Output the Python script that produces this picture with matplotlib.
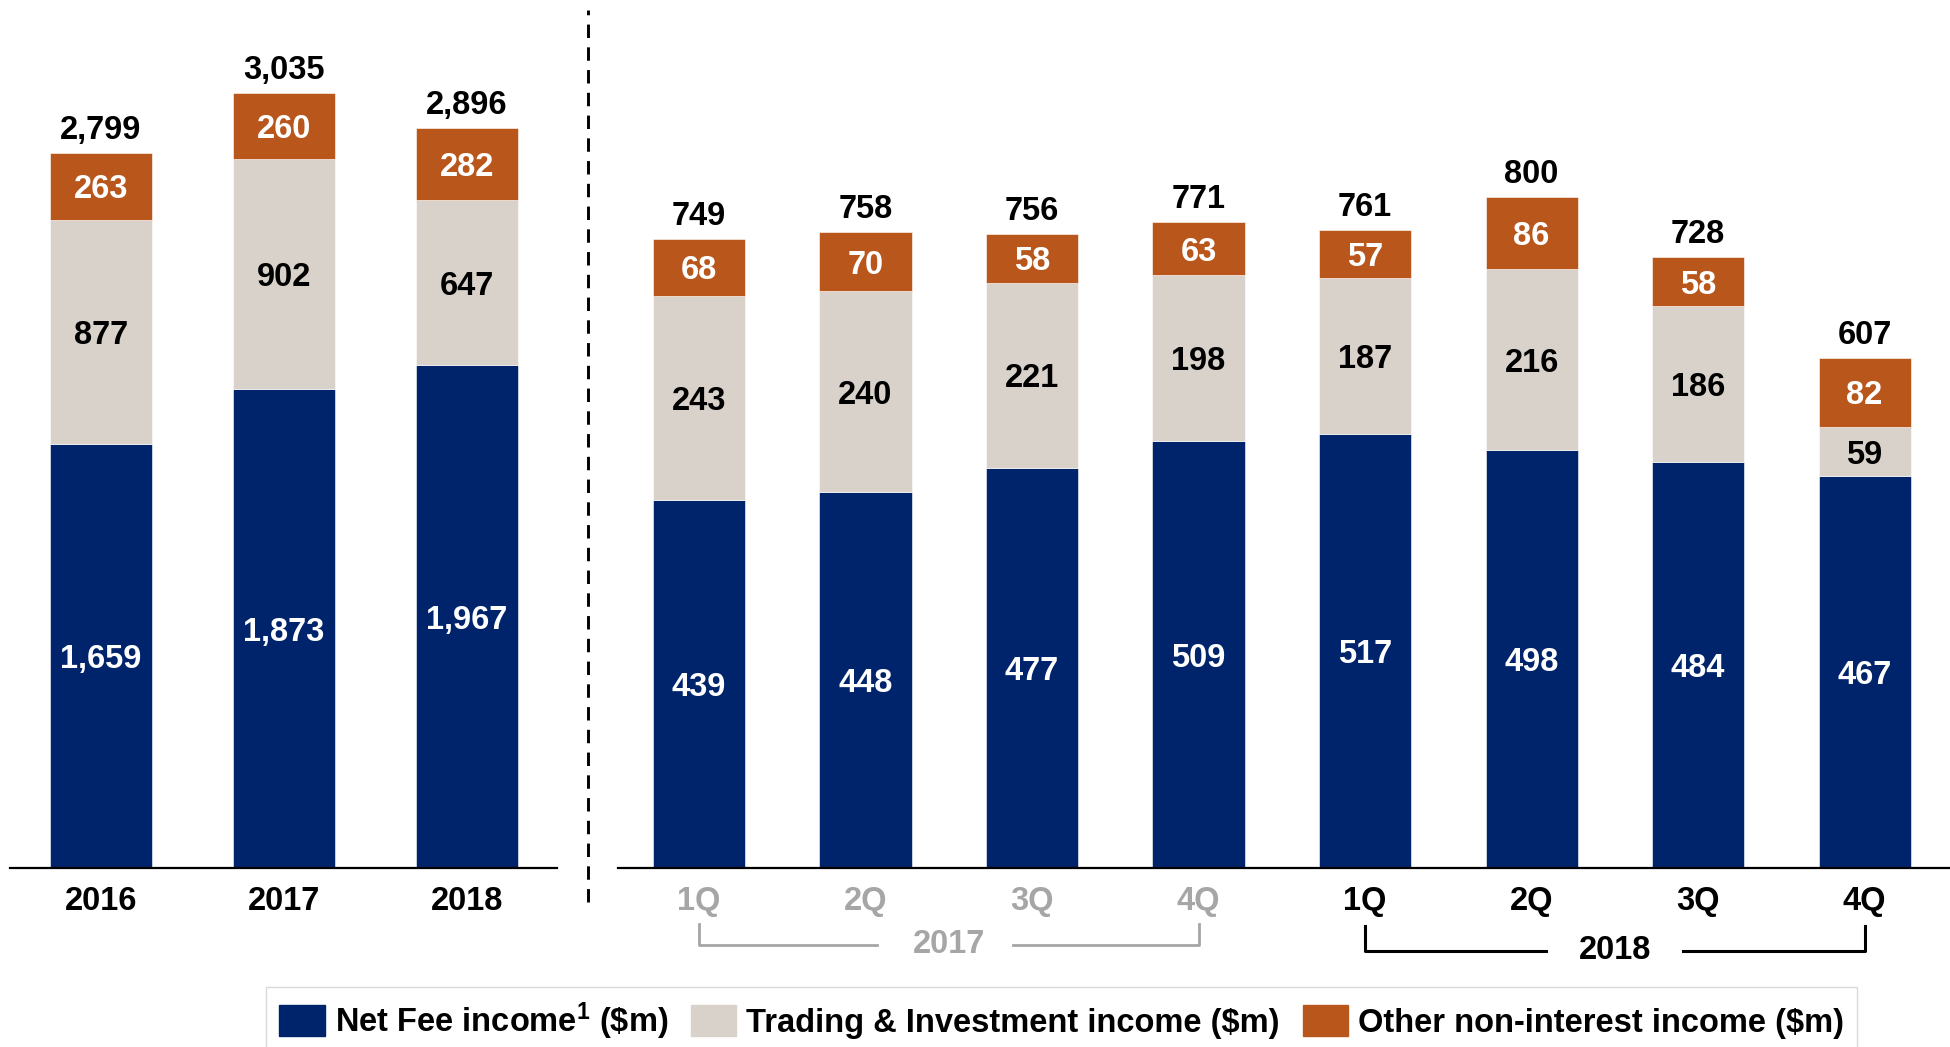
import matplotlib
matplotlib.use('Agg')
import matplotlib.pyplot as plt
from matplotlib.lines import Line2D
from matplotlib.patches import Patch

plt.rcParams['font.family'] = ['Liberation Sans', 'DejaVu Sans']
plt.rcParams['font.weight'] = 'bold'
plt.rcParams['mathtext.fontset'] = 'custom'
plt.rcParams['mathtext.rm'] = 'Liberation Sans:bold'
plt.rcParams['mathtext.default'] = 'rm'

# annual data
years = ['2016', '2017', '2018']
fee_y = [1659, 1873, 1967]
trade_y = [877, 902, 647]
other_y = [263, 260, 282]
total_y = [2799, 3035, 2896]

# quarterly data
quarters = ['1Q', '2Q', '3Q', '4Q', '1Q', '2Q', '3Q', '4Q']
fee_q = [439, 448, 477, 509, 517, 498, 484, 467]
trade_q = [243, 240, 221, 198, 187, 216, 186, 59]
other_q = [68, 70, 58, 63, 57, 86, 58, 82]
total_q = [749, 758, 756, 771, 761, 800, 728, 607]

NAVY = '#00246B'
BEIGE = '#D9D2CA'
ORANGE = '#B8561B'
GREY = '#A6A6A6'
FS = 23.5


def stacked(ax, labels, fee, trade, other, total, width):
    x = list(range(len(labels)))
    b2 = [f + t for f, t in zip(fee, trade)]
    ax.bar(x, fee, width, color=NAVY, edgecolor='white', linewidth=0.4)
    ax.bar(x, trade, width, bottom=fee, color=BEIGE, edgecolor='white', linewidth=0.4)
    ax.bar(x, other, width, bottom=b2, color=ORANGE, edgecolor='white', linewidth=0.4)
    for i in x:
        ax.text(i, fee[i] / 2, f'{fee[i]:,}', ha='center', va='center_baseline', color='white', fontsize=FS)
        ax.text(i, fee[i] + trade[i] / 2, f'{trade[i]:,}', ha='center', va='center_baseline', color='black', fontsize=FS)
        ax.text(i, b2[i] + other[i] / 2, f'{other[i]:,}', ha='center', va='center_baseline', color='white', fontsize=FS)
        ax.annotate(f'{total[i]:,}', (i, b2[i] + other[i]), xytext=(0, 5), textcoords='offset points',
                    ha='center', va='bottom', fontsize=FS)
    ax.set_xticks(x)
    ax.set_xticklabels(labels, fontsize=FS)
    ax.tick_params(axis='x', length=0, pad=13)
    ax.set_yticks([])
    for s in ['top', 'left', 'right']:
        ax.spines[s].set_visible(False)
    ax.spines['bottom'].set_linewidth(1.6)


fig = plt.figure(figsize=(19.5, 10.47), dpi=100)

ax1 = fig.add_axes([0.00513, 0.17096, 0.28051, 0.81948])
stacked(ax1, years, fee_y, trade_y, other_y, total_y, 0.557)
ax1.set_xlim(-0.495, 2.494)
ax1.set_ylim(0, 3358)

ax2 = fig.add_axes([0.31692, 0.17096, 0.68308, 0.81948])
stacked(ax2, quarters, fee_q, trade_q, other_q, total_q, 0.553)
ax2.set_xlim(-0.4865, 7.513)
ax2.set_ylim(0, 1023)
for i, lab in enumerate(ax2.get_xticklabels()):
    lab.set_color(GREY if i < 4 else 'black')

# year brackets under the quarters
tr = ax2.get_xaxis_transform()
ax2.plot([0, 0, 1.07], [-0.0653, -0.0897, -0.0897], transform=tr, clip_on=False, color=GREY, lw=2)
ax2.plot([1.886, 3, 3], [-0.0897, -0.0897, -0.0653], transform=tr, clip_on=False, color=GREY, lw=2)
ax2.text(1.5, -0.0897, '2017', transform=tr, ha='center', va='center', color=GREY, fontsize=FS)
ax2.plot([4, 4, 5.087], [-0.0676, -0.0967, -0.0967], transform=tr, clip_on=False, color='black', lw=2.2)
ax2.plot([5.91, 7, 7], [-0.0967, -0.0967, -0.0676], transform=tr, clip_on=False, color='black', lw=2.2)
ax2.text(5.5, -0.0967, '2018', transform=tr, ha='center', va='center', color='black', fontsize=FS)

# dashed separator
fig.add_artist(Line2D([0.3015, 0.3015], [0.1385, 0.9904], color='black', lw=2.1, linestyle=(0, (4.6, 3.2))))

handles = [Patch(color=NAVY), Patch(color=BEIGE), Patch(color=ORANGE)]
names = [r'Net Fee income$^{1}$ (\$m)', 'Trading & Investment income ($m)', 'Other non-interest income ($m)']
leg = fig.legend(handles, names, loc='upper center', bbox_to_anchor=(0.5444, 0.0573), ncol=3,
                 fontsize=FS, frameon=True, fancybox=False, handlelength=1.4, handleheight=1.08,
                 handletextpad=0.3, columnspacing=0.7, borderpad=0.4, borderaxespad=0)
leg.get_frame().set_edgecolor('#D0D0D0')
leg.get_frame().set_linewidth(1.0)

fig.savefig('out.png', dpi=100)
